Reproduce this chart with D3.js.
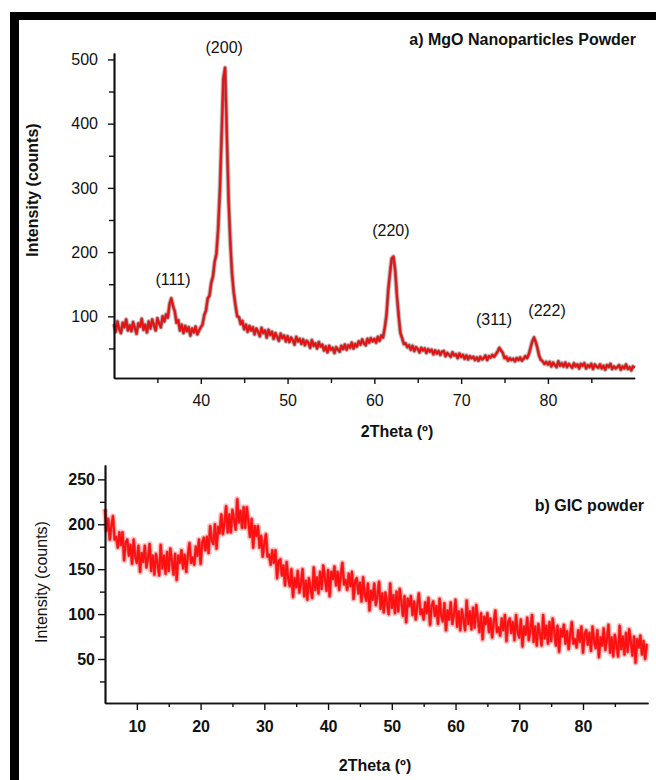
<!DOCTYPE html>
<html>
<head>
<meta charset="utf-8">
<script src="https://cdn.jsdelivr.net/npm/d3@7"></script>
<style>
  body { margin: 0; background: #fff; }
  text { font-family: "Liberation Sans", Arial, sans-serif; }
</style>
</head>
<body>
<script>
var width = 656,
    height = 780;

// ---- a) MgO nanoparticles, 2theta from 30 in steps of 0.2
var mgoStart = 30, mgoStep = 0.2;
var mgoCounts = [
  88,76,92,80,74,90,83,95,78,86,
  77,91,82,73,89,84,96,79,87,75,
  92,81,95,86,78,97,89,83,100,92,
  103,98,119,128,116,108,90,94,78,87,
  74,85,77,83,70,81,75,84,72,78,
  83,87,102,109,128,132,152,162,185,197,
  236,296,382,470,487,384,282,216,166,137,
  117,100,99,88,93,80,87,76,85,78,
  83,72,81,76,69,82,74,78,67,79,
  71,76,65,74,68,62,73,66,70,61,
  69,60,67,63,56,68,61,65,57,64,
  55,62,59,51,63,54,58,50,60,53,
  56,47,53,44,54,48,51,43,52,48,
  45,54,49,56,48,55,51,59,50,57,
  53,61,56,64,58,55,65,59,66,61,
  65,59,68,62,70,67,82,102,141,167,
  190,193,172,132,101,74,66,57,58,52,
  55,48,54,46,52,49,44,51,47,50,
  43,49,45,48,41,47,42,46,40,45,
  46,38,43,40,37,44,39,41,35,42,
  37,40,34,39,33,38,35,37,32,36,
  31,37,33,35,39,32,38,36,40,37,
  41,45,51,47,43,35,37,31,35,32,
  34,30,35,32,36,31,34,38,35,41,
  51,61,67,60,50,38,32,30,26,29,
  25,29,22,28,24,21,30,23,27,22,
  28,21,26,23,20,27,22,25,19,26,
  23,27,19,24,21,26,18,25,22,20,
  25,19,23,17,24,21,26,18,22,19,
  21,24,17,22,19,25,18,21,16,22,
  20
];
var mgoPeakNames = ["(111)", "(200)", "(220)", "(311)", "(222)"];
var mgoPeakAngle = [36.8, 42.7, 61.9, 73.8, 79.9];
var mgoPeakCount = [149, 510, 225, 87, 101];
var mgoXMajor = [40, 50, 60, 70, 80];
var mgoXMinor = [35, 45, 55, 65, 75, 85];
var mgoYMajor = [100, 200, 300, 400, 500];
var mgoYMinor = [50, 150, 250, 350, 450];

// ---- b) GIC powder, 2theta from 5 in steps of 0.25
var gicStart = 5, gicStep = 0.25;
var gicCounts = [
  217,193,206,183,198,209,183,186,
  174,191,177,191,160,180,183,165,
  177,156,183,164,157,176,147,168,
  158,176,152,163,178,148,165,144,
  167,156,143,177,151,165,145,169,
  148,173,159,144,167,138,165,157,
  171,151,166,147,165,179,157,163,
  155,175,165,183,156,179,185,171,
  186,168,198,182,178,200,173,197,
  190,211,189,202,220,191,211,191,
  216,205,194,228,202,215,196,219,
  196,219,203,186,206,174,198,187,
  198,174,187,164,179,189,164,166,
  155,171,157,171,140,159,161,143,
  154,132,158,139,131,150,119,140,
  130,148,124,135,150,120,137,116,
  140,129,118,152,127,141,123,147,
  128,154,141,126,149,120,147,139,
  153,132,147,127,144,157,133,138,
  127,145,131,147,117,137,140,123,
  135,114,141,122,115,134,104,126,
  116,134,110,121,136,106,123,102,
  124,113,100,134,107,121,101,125,
  103,128,114,98,120,91,117,109,
  120,99,114,94,110,123,100,105,
  94,113,101,118,88,109,114,98,
  109,89,117,98,92,112,82,104,
  94,113,89,100,116,86,103,82,
  105,94,82,115,89,103,83,107,
  85,110,95,80,101,72,97,89,
  101,80,95,74,91,104,80,85,
  76,95,82,99,70,91,95,79,
  91,71,99,80,74,94,64,86,
  77,96,71,83,99,69,86,65,
  89,78,65,99,73,87,67,91,
  70,95,80,65,87,58,83,75,
  88,67,81,61,78,91,67,72,
  63,82,69,86,57,78,82,66,
  79,59,86,69,62,82,52,74,
  65,84,60,72,88,57,74,53,
  77,66,53,87,61,75,55,79,
  58,83,69,54,75,46,72,63,
  76,55,70,50,67
];
var gicXMajor = [10, 20, 30, 40, 50, 60, 70, 80];
var gicXMinor = [15, 25, 35, 45, 55, 65, 75, 85];
var gicYMajor = [50, 100, 150, 200, 250];
var gicYMinor = [25, 75, 125, 175, 225];

var svg = d3.select("body").append("svg")
    .attr("width", width)
    .attr("height", height);

// black frame on the top and left
svg.append("rect").attr("x", 10).attr("y", 12).attr("width", 646).attr("height", 8).attr("fill", "#000");
svg.append("rect").attr("x", 10).attr("y", 12).attr("width", 9).attr("height", 768).attr("fill", "#000");

function panel(o) {
  var x = d3.scaleLinear().domain(o.xDomain).range(o.xRange);
  var y = d3.scaleLinear().domain(o.yDomain).range(o.yRange);
  var g = svg.append("g");
  var weight = o.boldTicks ? "bold" : "normal";

  var pts = o.counts.map(function(c, i) { return [o.start + i * o.step, c]; });
  var line = d3.line()
      .x(function(d) { return x(d[0]); })
      .y(function(d) { return y(d[1]); });

  // wide soft halo, darker edge, then the red trace
  g.append("path").datum(pts)
      .attr("d", line)
      .attr("fill", "none")
      .attr("stroke", o.halo)
      .attr("stroke-width", o.haloWidth)
      .attr("stroke-opacity", o.haloOpacity)
      .attr("stroke-linejoin", "round");
  g.append("path").datum(pts)
      .attr("d", line)
      .attr("fill", "none")
      .attr("stroke", o.edge)
      .attr("stroke-width", o.edgeWidth)
      .attr("stroke-opacity", o.edgeOpacity)
      .attr("stroke-linejoin", "round");
  g.append("path").datum(pts)
      .attr("d", line)
      .attr("fill", "none")
      .attr("stroke", o.color)
      .attr("stroke-width", o.lineWidth)
      .attr("stroke-linejoin", "round");

  var yBase = o.yRange[0];
  g.append("g").attr("transform", "translate(0," + yBase + ")")
      .call(d3.axisBottom(x).tickValues(o.xMinor).tickSize(o.minorX).tickFormat("").tickSizeOuter(0));
  g.append("g").attr("transform", "translate(0," + yBase + ")")
      .call(d3.axisBottom(x).tickValues(o.xMajor).tickSize(o.majorX).tickPadding(o.padX)
        .tickFormat(d3.format("d")).tickSizeOuter(0));
  var xAxisLeft = o.xRange[0];
  g.append("g").attr("transform", "translate(" + xAxisLeft + ",0)")
      .call(d3.axisLeft(y).tickValues(o.yMinor).tickSize(o.minorY).tickFormat("").tickSizeOuter(0));
  g.append("g").attr("transform", "translate(" + xAxisLeft + ",0)")
      .call(d3.axisLeft(y).tickValues(o.yMajor).tickSize(o.majorY).tickPadding(o.padY)
        .tickFormat(d3.format("d")).tickSizeOuter(0));

  g.selectAll(".domain").attr("stroke", "#111").attr("stroke-width", 1.7);
  g.selectAll(".tick line").attr("stroke", "#111").attr("stroke-width", 1.4);
  g.selectAll(".tick text")
      .attr("fill", "#111")
      .style("font-size", "16px")
      .style("font-weight", weight)
      .style("font-family", "'Liberation Sans', Arial, sans-serif");

  g.append("text")
      .attr("x", o.xTitleX).attr("y", o.xTitleY)
      .attr("text-anchor", "middle")
      .style("font-size", "16px").style("font-weight", "bold")
      .attr("fill", "#111")
      .text("2Theta (º)");

  g.append("text")
      .attr("transform", "translate(" + o.yTitleX + "," + o.yTitleY + ") rotate(-90)")
      .attr("text-anchor", "middle")
      .style("font-size", "16px").style("font-weight", o.yTitleWeight)
      .attr("fill", "#111")
      .text("Intensity (counts)");

  g.append("text")
      .attr("x", o.titleX).attr("y", o.titleY)
      .attr("text-anchor", "end")
      .style("font-size", "16px").style("font-weight", "bold")
      .attr("fill", "#111")
      .text(o.title);

  return {x: x, y: y, g: g};
}

var panelA = panel({
  start: mgoStart, step: mgoStep, counts: mgoCounts,
  xDomain: [30, 90], xRange: [114, 634.7],
  yDomain: [4, 510], yRange: [378, 53],
  xMajor: mgoXMajor, xMinor: mgoXMinor, yMajor: mgoYMajor, yMinor: mgoYMinor,
  majorX: 6, minorX: 5, padX: 11, majorY: 6, minorY: 5, padY: 10,
  boldTicks: false,
  halo: "#8a5050", haloWidth: 5, haloOpacity: 0.3,
  edge: "#6a3434", edgeWidth: 3.2, edgeOpacity: 0.55,
  color: "#e81010", lineWidth: 2,
  xTitleX: 397, xTitleY: 437,
  yTitleX: 38, yTitleY: 190, yTitleWeight: "bold",
  titleX: 636, titleY: 45, title: "a) MgO Nanoparticles Powder"
});

panelA.g.selectAll(".peak")
    .data(mgoPeakNames)
  .enter().append("text")
    .attr("class", "peak")
    .attr("x", function(d, i) { return panelA.x(mgoPeakAngle[i]); })
    .attr("y", function(d, i) { return panelA.y(mgoPeakCount[i]); })
    .attr("text-anchor", "middle")
    .style("font-size", "16px")
    .attr("fill", "#111")
    .text(function(d) { return d; });

var panelB = panel({
  start: gicStart, step: gicStep, counts: gicCounts,
  xDomain: [5, 90.2], xRange: [105, 648],
  yDomain: [1, 266], yRange: [703, 465],
  xMajor: gicXMajor, xMinor: gicXMinor, yMajor: gicYMajor, yMinor: gicYMinor,
  majorX: 7, minorX: 4, padX: 11, majorY: 7, minorY: 5, padY: 3,
  boldTicks: true,
  halo: "#ff4040", haloWidth: 6, haloOpacity: 0.3,
  edge: "#d01818", edgeWidth: 3.2, edgeOpacity: 0.55,
  color: "#ff1010", lineWidth: 2,
  xTitleX: 375, xTitleY: 771,
  yTitleX: 47, yTitleY: 582, yTitleWeight: "normal",
  titleX: 644, titleY: 511, title: "b) GIC powder"
});
</script>
</body>
</html>
